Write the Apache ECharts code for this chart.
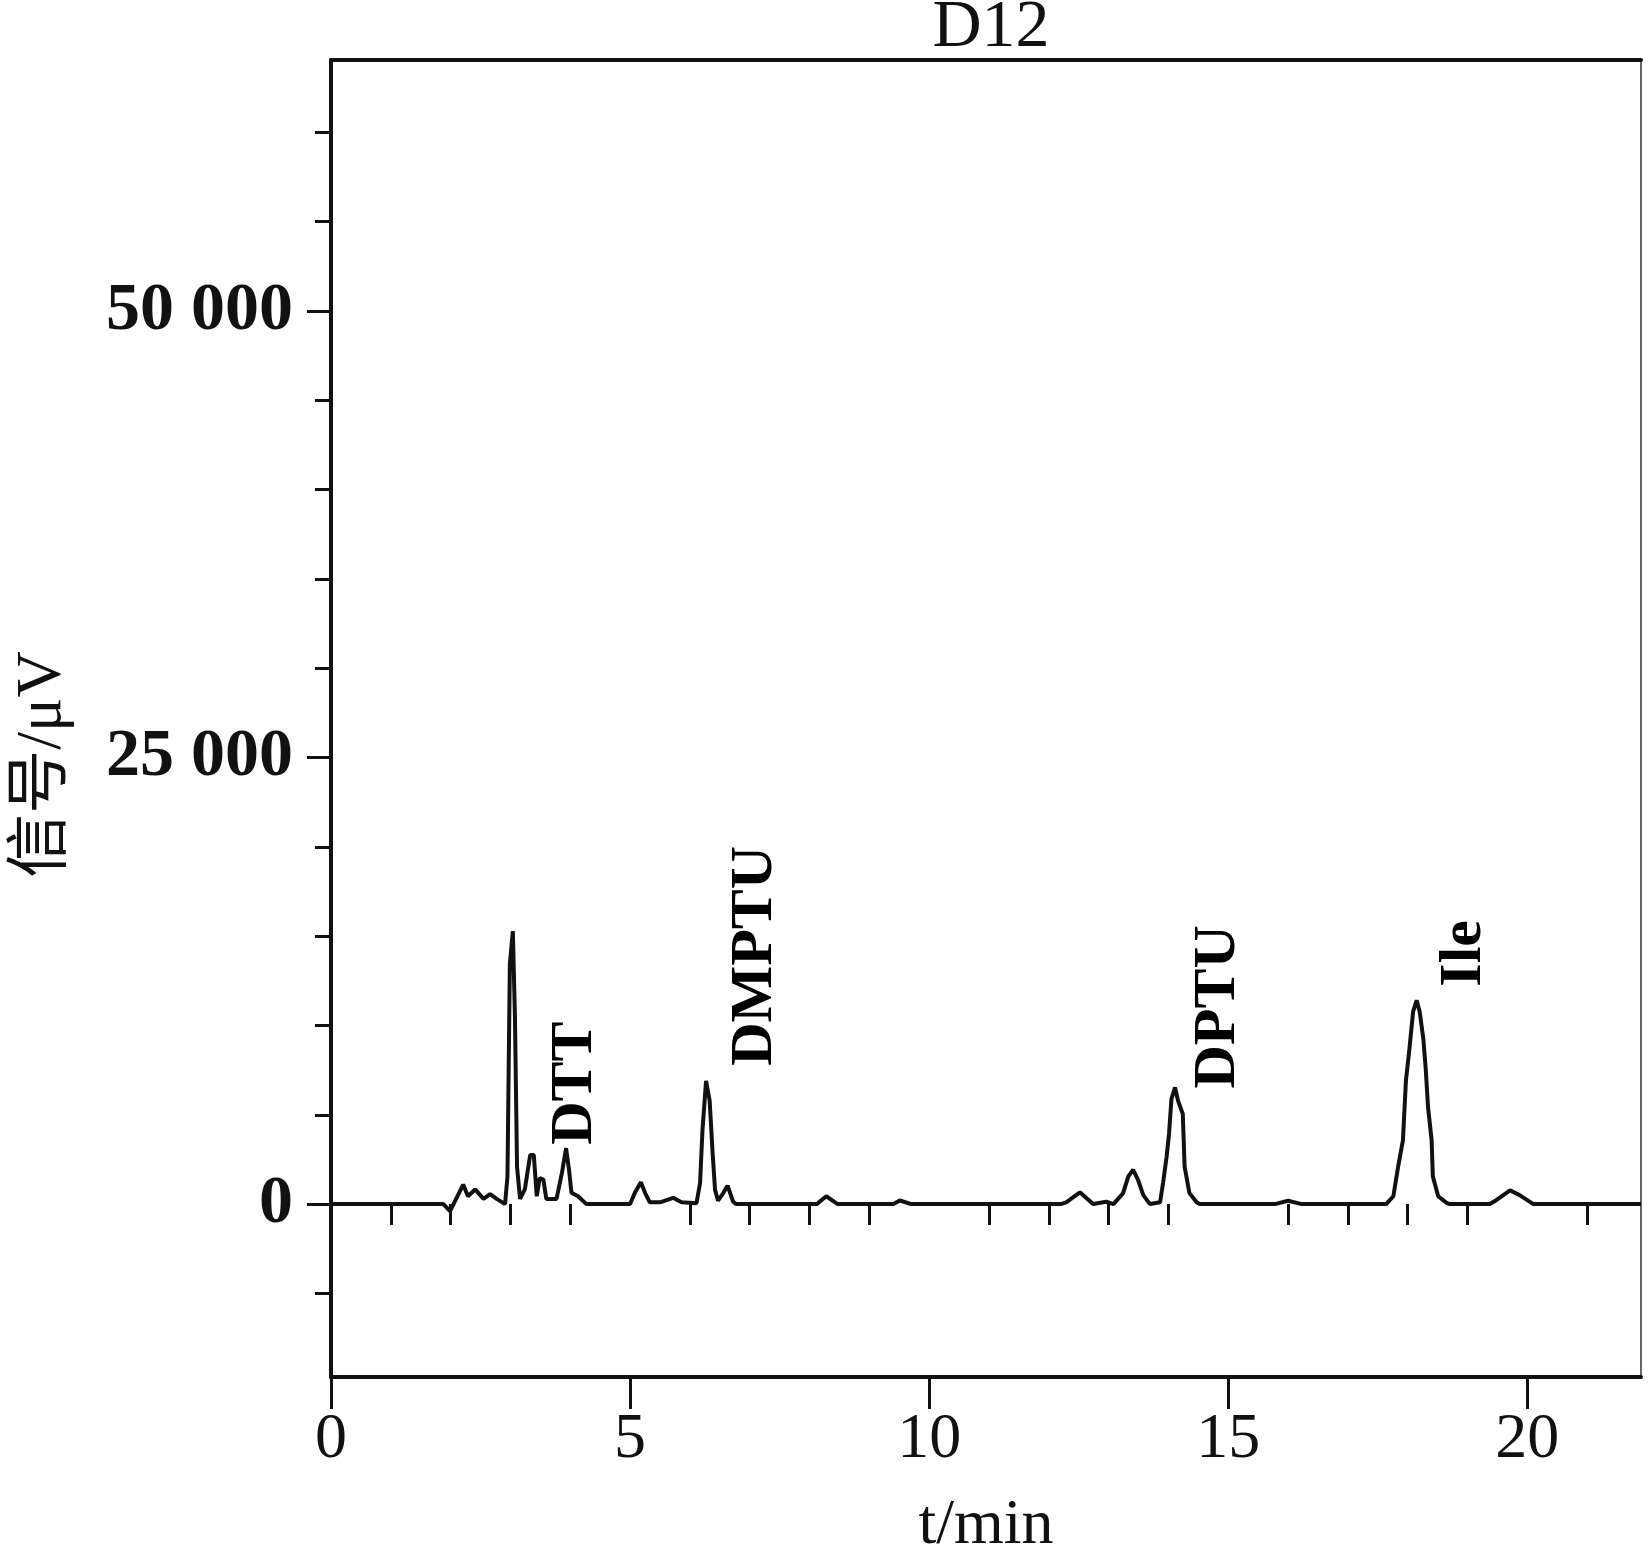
<!DOCTYPE html>
<html>
<head>
<meta charset="utf-8">
<script src="https://cdn.jsdelivr.net/npm/echarts@6/dist/echarts.min.js"></script>
<style>
html,body{margin:0;padding:0;background:#fff;overflow:hidden;}
#chart{width:1648px;height:1563px;}
</style>
</head>
<body>
<div id="chart"></div>
<script>
// retention time (min)
const times = [0, 1.88, 1.99, 2.21, 2.29, 2.41, 2.55, 2.66, 2.77, 2.91, 2.95, 2.99, 3.04, 3.075, 3.11, 3.16, 3.24, 3.33, 3.39, 3.44, 3.49, 3.55, 3.60, 3.77, 3.86, 3.93, 3.98, 4.02, 4.13, 4.27,
  5.0, 5.08, 5.18, 5.25, 5.33, 5.50, 5.72, 5.86, 6.11, 6.17, 6.21, 6.27, 6.33, 6.38, 6.42, 6.47, 6.56, 6.63, 6.72, 6.77,
  8.12, 8.28, 8.47, 9.40, 9.51, 9.70,
  12.20, 12.29, 12.52, 12.74, 12.96, 13.08, 13.24, 13.33, 13.41, 13.49, 13.58, 13.69, 13.86, 13.91, 13.97, 14.01, 14.05, 14.11, 14.16, 14.24, 14.27, 14.35, 14.47, 14.52,
  15.78, 16.00, 16.23, 17.64, 17.76, 17.84, 17.92, 17.97, 18.03, 18.09, 18.15, 18.20, 18.26, 18.30, 18.34, 18.40, 18.42, 18.51, 18.65, 18.70,
  19.37, 19.48, 19.71, 19.87, 20.10, 21.9];
// detector signal (µV)
const signal = [0, 0, -390, 1090, 440, 820, 290, 560, 290, 0, 1550, 13440, 15280, 10490, 2100, 290, 820, 2750, 2750, 440, 1460, 1370, 290, 290, 1730, 3130, 1900, 630, 440, 0,
  0, 630, 1220, 630, 100, 100, 350, 100, 50, 1180, 4130, 6900, 5790, 2840, 810, 190, 630, 1030, 150, 0,
  0, 440, 0, 0, 200, 0,
  0, 100, 660, 0, 130, 0, 600, 1550, 1920, 1370, 500, 0, 100, 1180, 2660, 3940, 5880, 6530, 5790, 5050, 2100, 630, 100, 0,
  0, 190, 0, 0, 440, 2100, 3570, 6900, 8740, 10770, 11410, 10770, 9290, 7630, 5420, 3570, 1550, 440, 70, 0,
  0, 220, 770, 500, 0, 0];

// peak annotations (anchor at start of vertical text, data units)
const peakNames = ['DTT', 'DMPTU', 'DPTU', 'Ile'];
const peakTimes = [4.08, 7.09, 14.83, 18.95];
const peakLabelBase = [3320, 7740, 6470, 12170];

const xMajorTicks = [0, 5, 10, 15, 20];
const xMinorTicks = [1, 2, 3, 4, 6, 7, 8, 9, 11, 12, 13, 14, 16, 17, 18, 19, 21];
const yMajorTicks = [0, 25000, 50000];
const yMinorTicks = [-5000, 5000, 10000, 15000, 20000, 30000, 35000, 40000, 45000, 55000, 60000];

const X_MIN = 0, X_MAX = 21.9, Y_MIN = -9680, Y_MAX = 64050;

const lineData = times.map((t, i) => [t, signal[i]]);
const peakData = peakNames.map((n, i) => [peakTimes[i], peakLabelBase[i], n]);

const INK = '#111111';
const SERIF = "'Liberation Serif', 'Times New Roman', serif";

const chart = echarts.init(document.getElementById('chart'), null, {renderer: 'canvas'});
chart.setOption({
  animation: false,
  backgroundColor: '#fff',
  title: {
    text: 'D12',
    left: 986, top: -11,
    textAlign: 'center',
    textStyle: {fontFamily: SERIF, fontSize: 68, fontWeight: 'normal', color: INK}
  },
  grid: {left: 331, right: 7, top: 60, bottom: 170, containLabel: false},
  xAxis: [
    {
      type: 'value', position: 'bottom', min: X_MIN, max: X_MAX,
      axisLine: {show: true, onZero: false, lineStyle: {color: INK, width: 4}},
      axisTick: {show: true, customValues: xMajorTicks, length: 32, lineStyle: {color: INK, width: 3}},
      axisLabel: {show: true, customValues: xMajorTicks, margin: 31, fontFamily: SERIF, fontSize: 64, color: INK},
      splitLine: {show: false},
      name: 't/min', nameLocation: 'middle', nameGap: 117,
      nameTextStyle: {fontFamily: SERIF, fontSize: 64, color: INK}
    },
    {
      type: 'value', position: 'bottom', min: X_MIN, max: X_MAX,
      axisLine: {show: false},
      axisTick: {show: true, customValues: xMinorTicks, length: 21, lineStyle: {color: INK, width: 3}},
      axisLabel: {show: false}, splitLine: {show: false}
    },
    {
      type: 'value', position: 'top', min: X_MIN, max: X_MAX,
      axisLine: {show: true, onZero: false, lineStyle: {color: INK, width: 4}},
      axisTick: {show: false}, axisLabel: {show: false}, splitLine: {show: false}
    }
  ],
  yAxis: [
    {
      type: 'value', position: 'left', min: Y_MIN, max: Y_MAX,
      axisLine: {show: true, onZero: false, lineStyle: {color: INK, width: 4}},
      axisTick: {show: true, customValues: yMajorTicks, length: 24, lineStyle: {color: INK, width: 3}},
      axisLabel: {
        show: true, customValues: yMajorTicks, margin: 38,
        fontFamily: SERIF, fontSize: 68, fontWeight: 'bold', color: INK,
        formatter: v => v === 0 ? '0' : String(v).replace(/(\d)(?=(\d{3})+$)/g, '$1 ')
      },
      splitLine: {show: false},
      name: '信号/μV', nameLocation: 'middle', nameGap: 256,
      nameTextStyle: {fontFamily: "'Liberation Serif', 'Noto Sans CJK SC', serif", fontSize: 64, color: INK, padding: [0, 92, 0, 0]}
    },
    {
      type: 'value', position: 'left', min: Y_MIN, max: Y_MAX,
      axisLine: {show: false},
      axisTick: {show: true, customValues: yMinorTicks, length: 16, lineStyle: {color: INK, width: 3}},
      axisLabel: {show: false}, splitLine: {show: false}
    },
    {
      type: 'value', position: 'right', min: Y_MIN, max: Y_MAX,
      axisLine: {show: true, onZero: false, lineStyle: {color: '#666', width: 2}},
      axisTick: {show: false}, axisLabel: {show: false}, splitLine: {show: false}
    }
  ],
  series: [
    {
      type: 'line', xAxisIndex: 0, yAxisIndex: 0,
      data: lineData, showSymbol: false, smooth: false,
      lineStyle: {color: INK, width: 4}
    },
    {
      type: 'scatter', xAxisIndex: 0, yAxisIndex: 0,
      data: peakData, symbolSize: 1,
      itemStyle: {color: '#ffffff'},
      label: {
        show: true, position: 'inside', rotate: 90,
        align: 'left', verticalAlign: 'middle',
        formatter: p => p.data[2],
        fontFamily: SERIF, fontSize: 60, fontWeight: 'bold',
        color: '#000000', opacity: 1, textBorderWidth: 0
      },
      silent: true
    }
  ]
});
</script>
</body>
</html>
